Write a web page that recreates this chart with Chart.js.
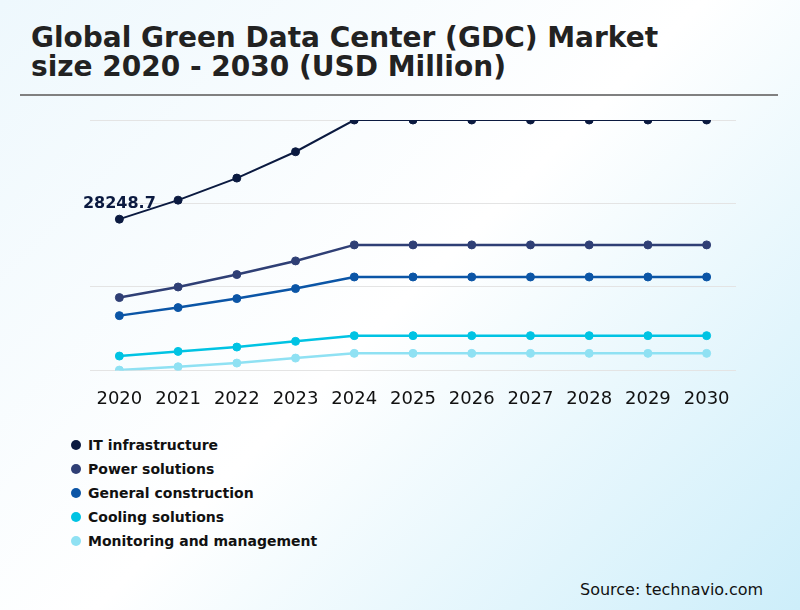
<!DOCTYPE html>
<html>
<head>
<meta charset="utf-8">
<script src="https://cdn.jsdelivr.net/npm/chart.js@4/dist/chart.umd.min.js"></script>
<style>
  html, body { margin: 0; padding: 0; }
  body {
    width: 800px; height: 610px; position: relative; overflow: hidden;
    font-family: "DejaVu Sans", sans-serif;
    background: linear-gradient(135deg, #eef8fd 0%, #ffffff 50%, #cdeefa 100%);
  }
  #title {
    position: absolute; left: 31px; top: 23px;
    font-size: 28px; font-weight: bold; line-height: 29px; color: #222;
  }
  #sep { position: absolute; left: 20px; top: 94px; width: 758px; height: 2px; background: #808080; }
  #box { position: absolute; left: 0; top: 100px; width: 800px; height: 332px; }
  #legend { position: absolute; left: 71px; top: 433px; }
  .item { height: 24px; display: flex; align-items: center; font-size: 14px; font-weight: bold; color: #111; }
  .dot { width: 10px; height: 10px; border-radius: 50%; margin-right: 7px; }
  #source { position: absolute; left: 580px; top: 580px; font-size: 16px; color: #111; }
</style>
</head>
<body>
<div id="title">Global Green Data Center (GDC) Market<br>size 2020 - 2030 (USD Million)</div>
<div id="sep"></div>
<div id="box"><canvas id="myChart"></canvas></div>
<div id="legend"></div>
<div id="source">Source: technavio.com</div>
<script>
// DATA
var years = ["2020", "2021", "2022", "2023", "2024", "2025", "2026", "2027", "2028", "2029", "2030"];
var itInfra = [28248.7, 31800, 35920, 40840, 46770, 46770, 46770, 46770, 46770, 46770, 46770];
var powerSol = [13600, 15580, 17900, 20450, 23440, 23440, 23440, 23440, 23440, 23440, 23440];
var generalCons = [10230, 11730, 13410, 15280, 17450, 17450, 17450, 17450, 17450, 17450, 17450];
var coolingSol = [2680, 3550, 4360, 5430, 6490, 6490, 6490, 6490, 6490, 6490, 6490];
var monitoring = [60, 690, 1370, 2300, 3180, 3180, 3180, 3180, 3180, 3180, 3180];
var seriesNames = ["IT infrastructure", "Power solutions", "General construction", "Cooling solutions", "Monitoring and management"];
var lineColors = ["#0b1a40", "#2f3f75", "#0b55a6", "#00c3e3", "#8fe1f3"];

var allSeries = [itInfra, powerSol, generalCons, coolingSol, monitoring];

// LABEL ON FIRST POINT
const firstLabel = {
    id: 'firstLabel',
    afterDatasetsDraw(chart) {
        var pt = chart.getDatasetMeta(0).data[0];
        var ctx = chart.ctx;
        ctx.save();
        ctx.font = "bold 16px 'DejaVu Sans'";
        ctx.fillStyle = lineColors[0];
        ctx.textAlign = "center";
        ctx.textBaseline = "middle";
        ctx.fillText(String(itInfra[0]), pt.x, pt.y - 15);
        ctx.restore();
    }
};

var sets = [];
for (var i = 0; i < allSeries.length; i++) {
    sets.push({
        label: seriesNames[i],
        data: allSeries[i],
        borderColor: lineColors[i],
        backgroundColor: lineColors[i],
        borderWidth: i == 0 ? 2 : 2.5,
        pointRadius: 4,
        pointBorderWidth: 1,
        pointHoverRadius: 4,
        tension: 0
    });
}

const mainChart = new Chart("myChart", {
    type: "line",
    data: { labels: years, datasets: sets },
    plugins: [firstLabel],
    options: {
        responsive: true,
        maintainAspectRatio: false,
        animation: false,
        layout: { padding: { left: 90, right: 64, top: 20, bottom: 12 } },
        plugins: {
            legend: { display: false },
            tooltip: { enabled: false }
        },
        scales: {
            x: {
                offset: true,
                grid: { display: false },
                border: { display: false },
                ticks: { color: "#111", padding: 10, font: { family: "DejaVu Sans", size: 18 } }
            },
            y: {
                min: 0,
                max: 46770,
                ticks: { display: false, stepSize: 15590 },
                grid: { color: "#e4e4e4", drawTicks: false },
                border: { display: false }
            }
        }
    }
});

// LEGEND
var leg = document.getElementById('legend');
for (var i = 0; i < seriesNames.length; i++) {
    var row = document.createElement('div');
    row.className = 'item';
    row.innerHTML = '<span class="dot" style="background:' + lineColors[i] + '"></span>' + seriesNames[i];
    leg.appendChild(row);
}
</script>
</body>
</html>
